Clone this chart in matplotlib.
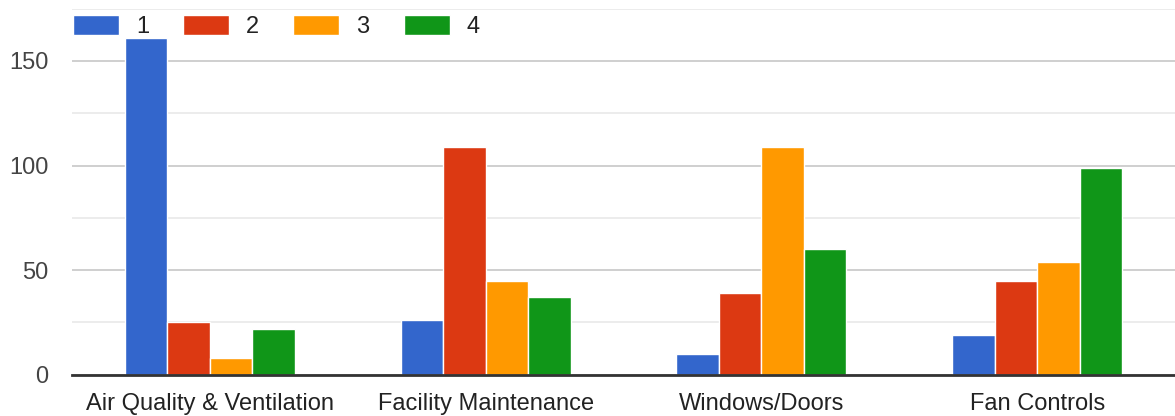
import matplotlib
matplotlib.use("Agg")
import matplotlib.pyplot as plt
import numpy as np

categories = ["Air Quality & Ventilation", "Facility Maintenance", "Windows/Doors", "Fan Controls"]
series_names = ["1", "2", "3", "4"]
s1 = [161, 26, 10, 19]
s2 = [25, 109, 39, 45]
s3 = [8, 45, 109, 54]
s4 = [22, 37, 60, 99]
series = [s1, s2, s3, s4]
colors = ["#3366cc", "#dc3912", "#ff9900", "#109618"]
yticks = [0, 50, 100, 150]

plt.rcParams['font.family'] = ['Liberation Sans', 'DejaVu Sans']

fig = plt.figure(figsize=(11.75, 4.16), dpi=100)
ax = fig.add_axes([72/1175, 41.3/416, 1 - 72/1175, (374.7-8.7)/416])

x = np.arange(len(categories))
bw = 0.154
offsets = (np.arange(4) - 1.5) * bw
handles = []
for i, (vals, c) in enumerate(zip(series, colors)):
    b = ax.bar(x + offsets[i], vals, width=bw, color=c, edgecolor="white", linewidth=1.0, zorder=3, label=series_names[i])
    handles.append(b)

ax.set_xlim(-0.5, len(categories) - 0.5)
ax.set_ylim(0, 175)
ax.set_yticks(yticks)
ax.set_yticks([25, 75, 125, 175], minor=True)
ax.grid(axis="y", which="major", color="#cccccc", linewidth=1.3, zorder=0)
ax.grid(axis="y", which="minor", color="#ebebeb", linewidth=1.3, zorder=0)
ax.tick_params(axis="y", which="both", length=0, pad=17, labelsize=17, labelcolor="#444444")
ax.tick_params(axis="x", length=0, pad=13, labelsize=17, labelcolor="#222222")
ax.set_xticks(x)
ax.set_xticklabels(categories)
for sp in ["top", "right", "left"]:
    ax.spines[sp].set_visible(False)
ax.spines["bottom"].set_color("#333333")
ax.spines["bottom"].set_linewidth(2)
ax.spines["bottom"].set_zorder(4)

fig.legend(handles=handles, labels=series_names, loc="upper left",
           bbox_to_anchor=(73/1175, 1 - 15/416), ncol=4, frameon=False,
           fontsize=17, handlelength=1.95, handleheight=0.95,
           handletextpad=0.72, columnspacing=1.44, borderpad=0, borderaxespad=0,
           labelcolor="#222222")

fig.savefig("out.png", dpi=100)
